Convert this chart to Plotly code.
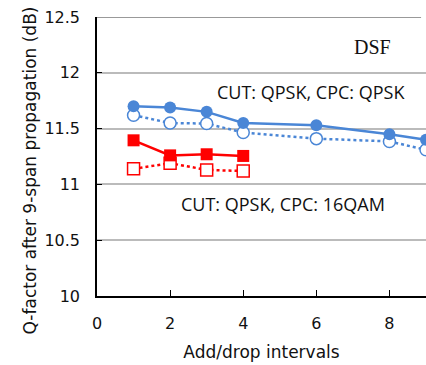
import plotly.graph_objects as go

x_qpsk = [1, 2, 3, 4, 6, 8, 9]
q_qpsk_cpc = [11.70, 11.69, 11.65, 11.55, 11.53, 11.45, 11.40]
q_qpsk_ref = [11.62, 11.55, 11.545, 11.465, 11.41, 11.385, 11.31]
x_16qam = [1, 2, 3, 4]
q_16qam_cpc = [11.395, 11.26, 11.27, 11.255]
q_16qam_ref = [11.14, 11.19, 11.13, 11.12]

blue = "#4A86D6"
red = "#FF0000"

fig = go.Figure()
fig.add_trace(go.Scatter(x=x_qpsk, y=q_qpsk_ref, mode="lines+markers",
                         line=dict(color=blue, width=2.5, dash="dot"),
                         marker=dict(symbol="circle", size=12, color="white",
                                     line=dict(color=blue, width=1.5))))
fig.add_trace(go.Scatter(x=x_qpsk, y=q_qpsk_cpc, mode="lines+markers",
                         line=dict(color=blue, width=2.5),
                         marker=dict(symbol="circle", size=12, color=blue)))
fig.add_trace(go.Scatter(x=x_16qam, y=q_16qam_ref, mode="lines+markers",
                         line=dict(color=red, width=2.5, dash="dot"),
                         marker=dict(symbol="square", size=12, color="white",
                                     line=dict(color=red, width=1.5))))
fig.add_trace(go.Scatter(x=x_16qam, y=q_16qam_cpc, mode="lines+markers",
                         line=dict(color=red, width=2.5),
                         marker=dict(symbol="square", size=12, color=red)))

tick_font = dict(family="DejaVu Sans", size=16, color="#111")
title_font = dict(family="DejaVu Sans", size=17, color="#111")
fig.update_layout(
    width=426, height=365, margin=dict(l=97, r=0, t=17, b=69),
    paper_bgcolor="white", plot_bgcolor="white", showlegend=False,
    xaxis=dict(range=[0, 9], tickvals=[0, 2, 4, 6, 8], showgrid=False,
               showline=True, linecolor="black", linewidth=1.5,
               ticks="inside", ticklen=6, tickcolor="black",
               tickfont=tick_font, zeroline=False, ticklabelstandoff=12,
               title=dict(text="Add/drop intervals", font=title_font, standoff=14)),
    yaxis=dict(range=[10, 12.5], tickvals=[10, 10.5, 11, 11.5, 12, 12.5],
               ticktext=["10", "10.5", "11", "11.5", "12", "12.5"],
               showgrid=True, gridcolor="#BBBBBB", gridwidth=1.5,
               showline=True, linecolor="black", linewidth=1.5,
               ticks="inside", ticklen=5, tickcolor="black",
               tickfont=tick_font, zeroline=False, ticklabelstandoff=12),
    shapes=[dict(type="line", xref="paper", yref="y", x0=0, x1=0.985,
                 y0=12.5, y1=12.5, line=dict(color="#777777", width=1.5))],
    annotations=[
        dict(x=-0.24, y=0.45, xref="paper", yref="paper",
             text="Q-factor after 9-span propagation (dB)", textangle=-90,
             showarrow=False, font=dict(family="DejaVu Sans", size=17, color="#111")),
        dict(x=5.85, y=11.83, text="CUT: QPSK, CPC: QPSK", showarrow=False,
             font=dict(family="Open Sans", size=18, color="#111")),
        dict(x=5.08, y=10.82, text="CUT: QPSK, CPC: 16QAM", showarrow=False,
             font=dict(family="Open Sans", size=18, color="#111")),
        dict(x=7.54, y=12.23, text="DSF", showarrow=False,
             font=dict(family="Liberation Serif", size=20, color="#111")),
    ],
)
fig.write_html("out.html")
